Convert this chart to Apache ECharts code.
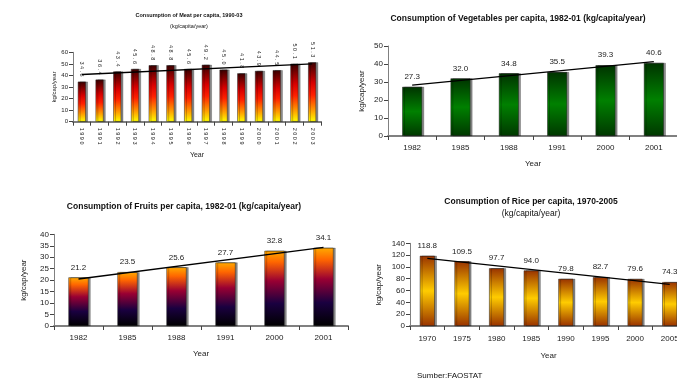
<!DOCTYPE html>
<html>
<head>
<meta charset="utf-8">
<script src="https://cdn.jsdelivr.net/npm/echarts@6.0.0/dist/echarts.min.js"></script>
<style>
  html, body { margin: 0; padding: 0; background: #fff; overflow: hidden; }
  #root { width: 700px; height: 382px; }
</style>
</head>
<body>
<div id="root"></div>
<script>
// data
const meatYears = ['1990', '1991', '1992', '1993', '1994', '1995', '1996', '1997', '1998', '1999', '2000', '2001', '2002', '2003']
const meatValues = [34.6, 36.4, 43.4, 45.6, 48.8, 48.8, 45.6, 49.2, 45.0, 41.8, 43.9, 44.5, 50.1, 51.3]
const meatTrend = [40.8, 50.0]

const vegYears = ['1982', '1985', '1988', '1991', '2000', '2001']
const vegValues = [27.3, 32.0, 34.8, 35.5, 39.3, 40.6]
const vegTrend = [28.3, 41.3]

const fruitYears = ['1982', '1985', '1988', '1991', '2000', '2001']
const fruitValues = [21.2, 23.5, 25.6, 27.7, 32.8, 34.1]
const fruitTrend = [20.5, 34.3]

const riceYears = ['1970', '1975', '1980', '1985', '1990', '1995', '2000', '2005']
const riceValues = [118.8, 109.5, 97.7, 94.0, 79.8, 82.7, 79.6, 74.3]
const riceTrend = [114.6, 70.6]

const FONT = 'Liberation Sans, Arial, sans-serif'
const NARROW = 'Liberation Sans Narrow, Liberation Sans, Arial, sans-serif'

const grad = stops => new echarts.graphic.LinearGradient(0, 0, 0, 1,
  stops.map(([offset, color]) => ({ offset, color })))

const trendData = (cats, ends) => cats.map((c, i) =>
  i === 0 ? ends[0] : (i === cats.length - 1 ? ends[1] : null))

// the small meat chart prints its numbers spread out
const spaced = s => String(s).split('').join(' ')

const chart = echarts.init(document.getElementById('root'))

const makeX = (gi, cats, opts = {}) => ({
  gridIndex: gi,
  type: 'category',
  data: cats,
  name: 'Year',
  nameLocation: 'middle',
  nameGap: opts.nameGap || 24,
  nameTextStyle: { fontFamily: opts.font || FONT, fontSize: opts.nameSize || 8, color: '#222' },
  axisLine: { lineStyle: { color: '#808080', width: 2 } },
  axisTick: { show: true, alignWithLabel: false, length: 4, lineStyle: { color: '#444', width: 1 } },
  axisLabel: {
    fontFamily: opts.font || FONT,
    fontSize: opts.labelSize || 8,
    color: '#222',
    margin: opts.margin || 8,
    rotate: opts.rotate || 0,
    interval: 0,
    formatter: opts.formatter
  },
  splitLine: { show: false }
})

const makeY = (gi, max, interval, opts = {}) => ({
  gridIndex: gi,
  type: 'value',
  min: 0,
  max,
  interval,
  name: 'kg/cap/year',
  nameLocation: 'middle',
  nameRotate: 90,
  nameGap: opts.nameGap || 22,
  nameTextStyle: { fontFamily: opts.font || FONT, fontSize: opts.nameSize || 8, color: '#222' },
  axisLine: { show: true, lineStyle: { color: '#808080', width: 1 } },
  axisTick: { show: true, length: 4, lineStyle: { color: '#444' } },
  axisLabel: { fontFamily: opts.font || FONT, fontSize: opts.labelSize || 8, color: '#222', margin: 5 },
  splitLine: { show: false }
})

const makeBar = (gi, values, color, opts = {}) => ({
  type: 'bar',
  xAxisIndex: gi,
  yAxisIndex: gi,
  data: values,
  barWidth: opts.barWidth || '41%',
  itemStyle: {
    color,
    borderColor: '#222',
    borderWidth: 0.5,
    shadowColor: 'rgba(0,0,0,0.45)',
    shadowOffsetX: 2,
    shadowBlur: 0
  },
  label: Object.assign({
    show: true,
    position: 'top',
    distance: 6,
    fontFamily: FONT,
    fontSize: 8,
    color: '#222',
    formatter: p => p.value.toFixed(1)
  }, opts.label || {}),
  z: 2
})

const makeTrend = (gi, cats, ends) => ({
  type: 'line',
  xAxisIndex: gi,
  yAxisIndex: gi,
  data: trendData(cats, ends),
  connectNulls: true,
  symbol: 'none',
  lineStyle: { color: '#000', width: 1.3 },
  z: 5,
  silent: true
})

const richTitle = (size, family) => ({
  b: { fontFamily: family, fontSize: size, fontWeight: 'bold', color: '#111' },
  n: { fontFamily: family, fontSize: size, color: '#111' }
})

const option = {
  animation: false,
  backgroundColor: '#fff',
  title: [
    {
      text: '{b|Consumption of Meat per capita,}{n| 1990-03}',
      left: 189, top: 12, textAlign: 'center', padding: 0,
      textStyle: { rich: richTitle(5.5, NARROW) }
    },
    {
      text: '(kg/capita/year)',
      left: 189, top: 23, textAlign: 'center', padding: 0,
      textStyle: { fontFamily: NARROW, fontSize: 5.5, fontWeight: 'normal', color: '#111' }
    },
    {
      text: '{b|Consumption of Vegetables per capita,}{n| 1982-01 (kg/capita/year)}',
      left: 518, top: 14, textAlign: 'center', padding: 0,
      textStyle: { rich: richTitle(8.5, FONT) }
    },
    {
      text: '{b|Consumption of Fruits per capita,}{n| 1982-01 (kg/capita/year)}',
      left: 184, top: 202, textAlign: 'center', padding: 0,
      textStyle: { rich: richTitle(8.5, FONT) }
    },
    {
      text: '{b|Consumption of Rice per capita,}{n| 1970-2005}',
      left: 531, top: 197, textAlign: 'center', padding: 0,
      textStyle: { rich: richTitle(8.5, FONT) }
    },
    {
      text: '(kg/capita/year)',
      left: 531, top: 209, textAlign: 'center', padding: 0,
      textStyle: { fontFamily: FONT, fontSize: 8.5, fontWeight: 'normal', color: '#111' }
    },
    {
      text: 'Sumber:FAOSTAT',
      left: 417, top: 372, padding: 0,
      textStyle: { fontFamily: FONT, fontSize: 8, fontWeight: 'normal', color: '#111' }
    }
  ],
  grid: [
    { left: 73, top: 52.3, width: 248, height: 69.4 },
    { left: 388, top: 46, width: 290, height: 90 },
    { left: 54, top: 234.3, width: 294, height: 91.7 },
    { left: 410, top: 243.3, width: 277, height: 82.7 }
  ],
  xAxis: [
    makeX(0, meatYears, { font: NARROW, labelSize: 5.5, rotate: -90, margin: 6, nameGap: 30, nameSize: 7, formatter: spaced }),
    makeX(1, vegYears, { nameGap: 24 }),
    makeX(2, fruitYears, { nameGap: 24 }),
    makeX(3, riceYears, { nameGap: 26, margin: 9 })
  ],
  yAxis: [
    makeY(0, 60, 10, { font: NARROW, labelSize: 6, nameSize: 6, nameGap: 9 }),
    makeY(1, 50, 10, { nameGap: 22 }),
    makeY(2, 40, 5, { nameGap: 26 }),
    makeY(3, 140, 20, { nameGap: 27 })
  ],
  series: [
    makeBar(0, meatValues, grad([[0, '#3a0000'], [0.35, '#d80000'], [0.55, '#ff2000'], [0.8, '#ff9900'], [1, '#ffff00']]), {
      barWidth: '45%',
      label: {
        rotate: -90, align: 'right', verticalAlign: 'middle', fontFamily: NARROW, fontSize: 5.5, distance: 5,
        formatter: p => spaced(p.value.toFixed(1))
      }
    }),
    makeTrend(0, meatYears, meatTrend),
    makeBar(1, vegValues, grad([[0, '#003300'], [0.5, '#008000'], [1, '#003800']])),
    makeTrend(1, vegYears, vegTrend),
    makeBar(2, fruitValues, grad([[0, '#ffaa00'], [0.15, '#ff6600'], [0.4, '#990033'], [0.7, '#1a0040'], [1, '#000000']])),
    makeTrend(2, fruitYears, fruitTrend),
    makeBar(3, riceValues, grad([[0, '#993300'], [0.5, '#ffcc00'], [1, '#993300']]), { barWidth: '43%' }),
    makeTrend(3, riceYears, riceTrend)
  ]
}

chart.setOption(option)
</script>
</body>
</html>
